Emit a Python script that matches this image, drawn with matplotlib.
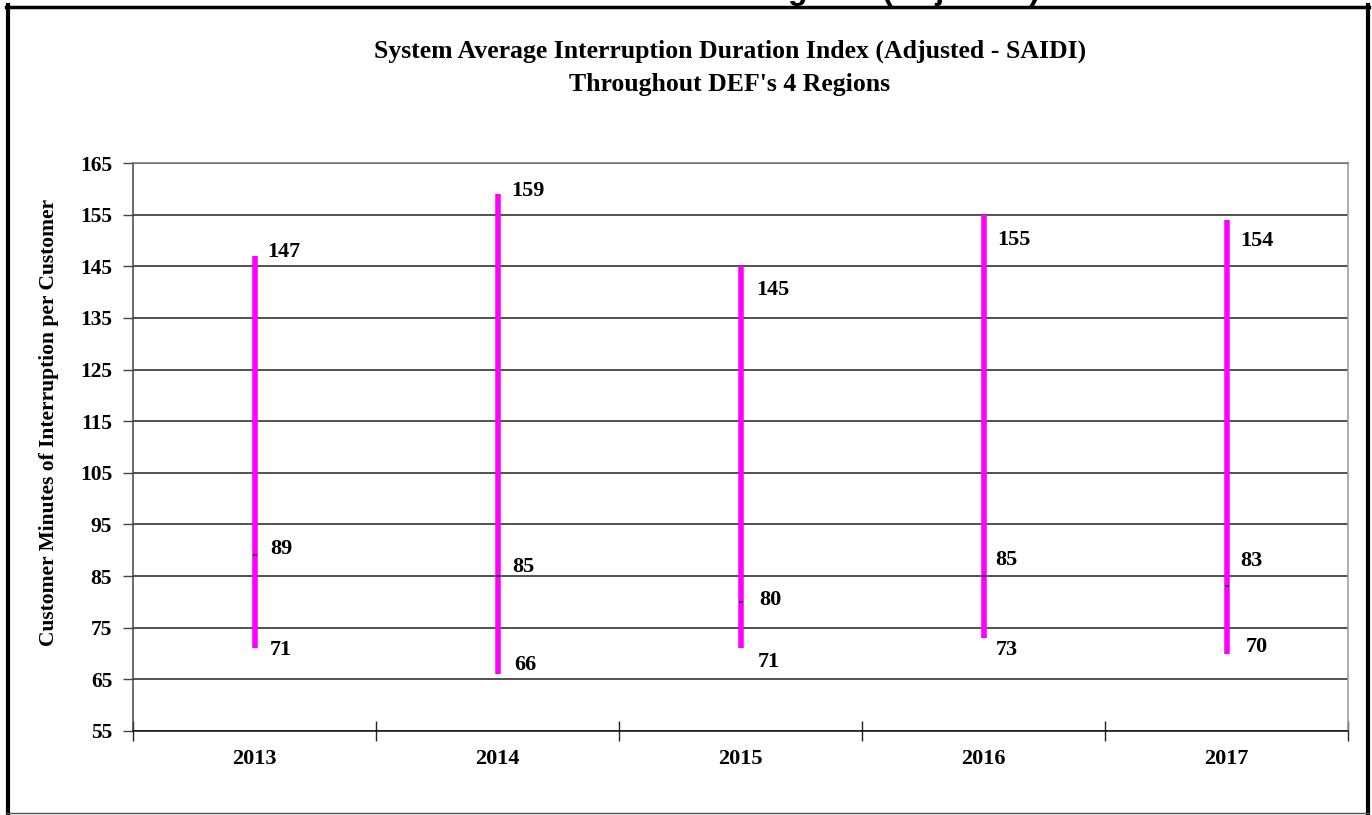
import numpy as np
import matplotlib.pyplot as plt
from matplotlib.lines import Line2D

years = ['2013', '2014', '2015', '2016', '2017']
high = [147, 159, 145, 155, 154]
avg = [89, 85, 80, 85, 83]
low = [71, 66, 71, 73, 70]

# label offsets in pixels (dx, dy) relative to the point
off_high = [(13, 4), (14, 3), (16, -24), (14, -25), (14, -21)]
off_avg = [(16, 6), (15, 9), (19, 2), (12, 16), (14, 25)]
off_low = [(15, -2), (17, 9), (17, -14), (12, -12), (19, 7)]

W, H = 1372, 815
fig = plt.figure(figsize=(W / 100, H / 100), dpi=100)
ax = fig.add_axes([133 / W, (H - 731) / H, (1348 - 133) / W, (731 - 163) / H])

serif = 'Liberation Serif'
x = np.arange(len(years)) + 0.5

ax.vlines(x, low, high, color='#FF00FF', lw=4, zorder=3)
ax.plot(x, avg, ls='none', marker='_', ms=3, mew=1.2, color='black', zorder=4)

for i in range(len(years)):
    for val, off in ((high[i], off_high[i]), (avg[i], off_avg[i]), (low[i], off_low[i])):
        ax.annotate(str(val), (x[i], val), xytext=off, textcoords='offset pixels',
                    ha='left', va='center', fontsize=16, fontweight='bold',
                    family=serif, color='black')

ax.set_xlim(0, len(years))
ax.set_ylim(55, 165)
ax.set_yticks(np.arange(55, 166, 10))
ax.set_yticklabels([str(v) for v in range(55, 166, 10)], fontsize=15.5,
                   fontweight='bold', family=serif)
ax.set_xticks(np.arange(0, len(years) + 1))
ax.set_xticklabels([])
ax.set_xticks(x, minor=True)
ax.set_xticklabels(years, minor=True, fontsize=16, fontweight='bold', family=serif)
ax.tick_params(axis='x', which='major', direction='inout', length=14, width=1, color='#222222')
ax.tick_params(axis='x', which='minor', length=0, pad=13)
ax.tick_params(axis='y', direction='out', length=7, width=1, color='#444444', pad=8)

ax.yaxis.grid(True, color='#222222', lw=1.1)
ax.set_axisbelow(True)
ax.spines['left'].set_color('#444444')
ax.spines['bottom'].set_color('#111111')
ax.spines['top'].set_color('#777777')
ax.spines['right'].set_color('#999999')
for s in ax.spines.values():
    s.set_linewidth(1.1)

ax.set_ylabel('Customer Minutes of Interruption per Customer', fontsize=15.5,
              fontweight='bold', family=serif)
ax.yaxis.set_label_coords(-0.061, 0.544)

fig.text(730 / W, 1 - 51 / H, 'System Average Interruption Duration Index (Adjusted - SAIDI)',
         ha='center', va='center', fontsize=18.5, fontweight='bold', family=serif)
fig.text(730 / W, 1 - 84 / H, "Throughout DEF's 4 Regions",
         ha='center', va='center', fontsize=18.5, fontweight='bold', family=serif)

# cropped heading above the frame
fig.text(1040 / W, 1 + 1 / H, 'Regions (Adjusted)', ha='right', va='baseline',
         fontsize=23, fontweight='bold', family='Liberation Sans')

# outer frame
def fline(x0, y0, x1, y1, lw, color='black'):
    fig.add_artist(Line2D([x0 / W, x1 / W], [1 - y0 / H, 1 - y1 / H],
                          transform=fig.transFigure, lw=lw, color=color))

fline(7.5, 5, 7.5, 813, 3)
fline(6, 6.5, 1369, 6.5, 2.5)
fline(1367.5, 5, 1367.5, 813, 3)
fline(6, 813, 1369, 813, 1, '#555555')

fig.savefig('out.png', dpi=100)
